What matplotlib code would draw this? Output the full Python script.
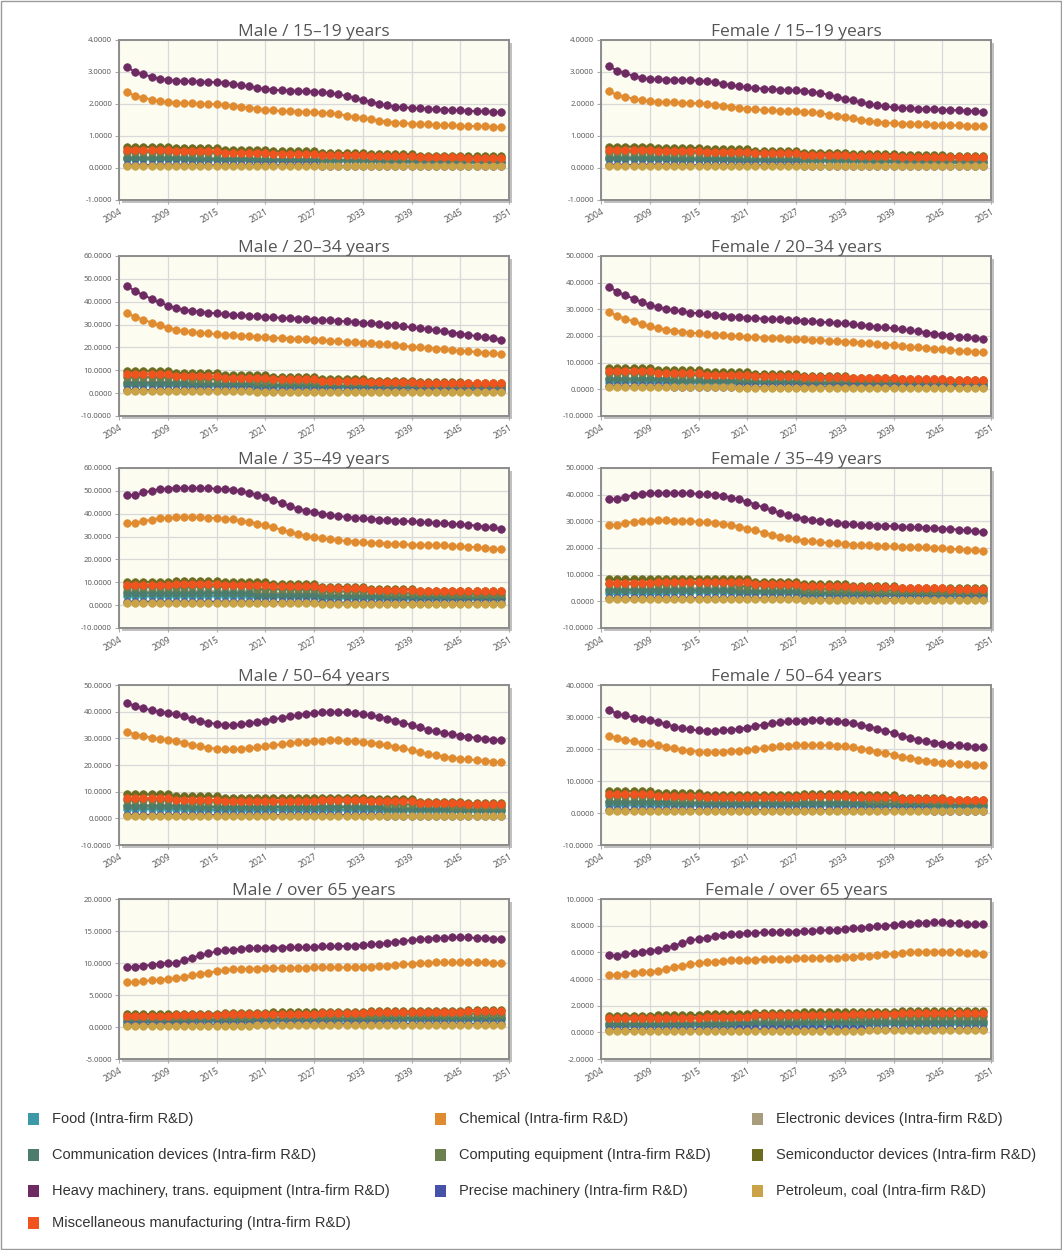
import matplotlib
matplotlib.use("Agg")
import matplotlib.pyplot as plt
import matplotlib.patheffects as pe
from matplotlib.patches import Rectangle

plt.rcParams['font.family'] = ['Open Sans', 'DejaVu Sans']

# x axis: 47 yearly points on a category axis, labels every 6th slot
tick_labels = ['2004', '2009', '2015', '2021', '2027', '2033', '2039', '2045', '2051']
x = list(range(1, 48))

series_names = ['Food (Intra-firm R&D)', 'Chemical (Intra-firm R&D)', 'Electronic devices (Intra-firm R&D)',
                'Communication devices (Intra-firm R&D)', 'Computing equipment (Intra-firm R&D)',
                'Semiconductor devices (Intra-firm R&D)', 'Heavy machinery, trans. equipment (Intra-firm R&D)',
                'Precise machinery (Intra-firm R&D)', 'Petroleum, coal (Intra-firm R&D)',
                'Miscellaneous manufacturing (Intra-firm R&D)']
colors = ['#3d98a8', '#e08b30', '#a89c7c', '#4c7c6c', '#6b7f4f',
          '#6c6c20', '#6e2a62', '#4552a8', '#c9a345', '#f0541e']


def steps(*levels):
    out = []
    base, extra = divmod(47, len(levels))
    for i, v in enumerate(levels):
        out += [v] * (base + (1 if i < extra else 0))
    return out


# ---- Male / 15-19
m15_heavy = [3.15, 3.00, 2.93, 2.85, 2.78, 2.75, 2.73, 2.72, 2.71, 2.70, 2.69, 2.68, 2.67, 2.63, 2.59, 2.55,
             2.50, 2.47, 2.45, 2.43, 2.42, 2.41, 2.40, 2.39, 2.37, 2.34, 2.30, 2.25, 2.19, 2.13, 2.07, 2.01,
             1.96, 1.92, 1.90, 1.88, 1.86, 1.85, 1.83, 1.82, 1.81, 1.80, 1.79, 1.78, 1.77, 1.76, 1.74]
m15_chem = [2.36, 2.26, 2.20, 2.14, 2.09, 2.06, 2.04, 2.03, 2.02, 2.01, 2.00, 1.99, 1.98, 1.95, 1.92, 1.89,
            1.85, 1.82, 1.80, 1.78, 1.77, 1.76, 1.75, 1.74, 1.73, 1.71, 1.68, 1.64, 1.60, 1.56, 1.52, 1.48,
            1.45, 1.42, 1.40, 1.39, 1.37, 1.36, 1.35, 1.34, 1.33, 1.32, 1.31, 1.31, 1.30, 1.29, 1.28]
m15_food = steps(0.28, 0.26, 0.23, 0.21, 0.19, 0.18)
m15_elec = steps(0.35, 0.32, 0.29, 0.26, 0.24, 0.22)
m15_comm = steps(0.30, 0.28, 0.26, 0.24, 0.22, 0.20)
m15_comp = steps(0.50, 0.47, 0.43, 0.38, 0.33, 0.30)
m15_semi = steps(0.66, 0.62, 0.57, 0.52, 0.47, 0.43, 0.39, 0.36)
m15_prec = steps(0.09, 0.08, 0.08, 0.07, 0.07, 0.06)
m15_pet = steps(0.06, 0.06, 0.05, 0.05, 0.05, 0.05)
m15_misc = steps(0.55, 0.52, 0.48, 0.45, 0.41, 0.37, 0.34, 0.32)

# ---- Female / 15-19
f15_heavy = [3.18, 3.04, 2.96, 2.88, 2.81, 2.78, 2.77, 2.76, 2.76, 2.75, 2.74, 2.73, 2.72, 2.68, 2.64, 2.59,
             2.55, 2.52, 2.50, 2.48, 2.46, 2.45, 2.44, 2.43, 2.41, 2.38, 2.34, 2.29, 2.23, 2.17, 2.11, 2.05,
             2.00, 1.96, 1.93, 1.90, 1.88, 1.87, 1.85, 1.84, 1.83, 1.82, 1.81, 1.80, 1.79, 1.78, 1.76]
f15_chem = [2.40, 2.28, 2.22, 2.16, 2.11, 2.08, 2.07, 2.06, 2.05, 2.04, 2.03, 2.02, 2.01, 1.98, 1.95, 1.92,
            1.88, 1.85, 1.83, 1.81, 1.80, 1.79, 1.78, 1.77, 1.76, 1.74, 1.71, 1.67, 1.63, 1.59, 1.55, 1.51,
            1.47, 1.44, 1.42, 1.40, 1.39, 1.38, 1.37, 1.36, 1.35, 1.34, 1.33, 1.33, 1.32, 1.31, 1.30]
f15_food = steps(0.29, 0.26, 0.23, 0.21, 0.19, 0.18)
f15_elec = steps(0.36, 0.33, 0.30, 0.27, 0.24, 0.22)
f15_comm = steps(0.31, 0.29, 0.26, 0.24, 0.22, 0.20)
f15_comp = steps(0.51, 0.48, 0.44, 0.39, 0.34, 0.31)
f15_semi = steps(0.67, 0.63, 0.58, 0.53, 0.48, 0.44, 0.40, 0.37)
f15_prec = steps(0.09, 0.08, 0.08, 0.07, 0.07, 0.06)
f15_pet = steps(0.06, 0.06, 0.05, 0.05, 0.05, 0.05)
f15_misc = steps(0.56, 0.53, 0.49, 0.46, 0.42, 0.38, 0.35, 0.33)

# ---- Male / 20-34
m20_heavy = [47.0, 44.5, 43.0, 41.2, 39.7, 38.3, 37.2, 36.5, 36.0, 35.6, 35.2, 34.9, 34.6, 34.3, 34.0, 33.8,
             33.6, 33.4, 33.2, 33.0, 32.8, 32.6, 32.4, 32.2, 32.0, 31.8, 31.6, 31.4, 31.2, 30.9, 30.6, 30.3,
             30.0, 29.6, 29.2, 28.8, 28.4, 28.0, 27.5, 27.0, 26.5, 26.0, 25.5, 25.0, 24.5, 24.0, 23.4]
m20_chem = [35.0, 33.3, 32.2, 30.8, 29.6, 28.6, 27.8, 27.2, 26.8, 26.4, 26.1, 25.8, 25.5, 25.3, 25.1, 24.9,
            24.7, 24.5, 24.3, 24.1, 23.9, 23.7, 23.5, 23.3, 23.1, 22.9, 22.7, 22.5, 22.3, 22.1, 21.9, 21.6,
            21.3, 21.0, 20.7, 20.4, 20.1, 19.8, 19.5, 19.2, 18.9, 18.6, 18.3, 18.0, 17.7, 17.4, 17.1]
m20_food = steps(3.5, 3.1, 2.8, 2.5, 2.2, 2.0)
m20_elec = steps(5.0, 4.4, 3.9, 3.4, 3.1, 2.8)
m20_comm = steps(4.5, 3.9, 3.5, 3.1, 2.8, 2.5)
m20_comp = steps(7.0, 6.2, 5.5, 4.8, 4.1, 3.6)
m20_semi = steps(9.8, 8.8, 7.9, 7.1, 6.3, 5.5, 4.8, 4.3)
m20_prec = steps(1.3, 1.2, 1.1, 1.0, 0.9, 0.8)
m20_pet = steps(0.9, 0.8, 0.7, 0.7, 0.6, 0.6)
m20_misc = steps(8.3, 7.3, 6.6, 6.0, 5.5, 5.0, 4.6, 4.3)

# ---- Female / 20-34
f20_heavy = [38.5, 36.5, 35.3, 34.0, 32.8, 31.6, 30.8, 30.2, 29.6, 29.2, 28.8, 28.5, 28.2, 27.9, 27.6, 27.3,
             27.1, 26.9, 26.7, 26.5, 26.4, 26.2, 26.0, 25.9, 25.7, 25.5, 25.3, 25.1, 24.9, 24.7, 24.4, 24.1,
             23.8, 23.5, 23.2, 22.9, 22.5, 22.1, 21.7, 21.3, 20.9, 20.5, 20.1, 19.8, 19.5, 19.2, 18.9]
f20_chem = [29.0, 27.5, 26.5, 25.5, 24.5, 23.6, 23.0, 22.4, 22.0, 21.6, 21.3, 21.0, 20.7, 20.5, 20.3, 20.1,
            19.9, 19.7, 19.6, 19.4, 19.3, 19.1, 19.0, 18.9, 18.7, 18.5, 18.4, 18.2, 18.0, 17.9, 17.7, 17.5,
            17.3, 17.0, 16.8, 16.6, 16.3, 16.0, 15.8, 15.5, 15.3, 15.0, 14.8, 14.5, 14.3, 14.1, 13.9]
f20_food = steps(2.8, 2.5, 2.2, 2.0, 1.8, 1.6)
f20_elec = steps(4.2, 3.7, 3.3, 2.9, 2.6, 2.3)
f20_comm = steps(3.7, 3.2, 2.9, 2.5, 2.2, 2.0)
f20_comp = steps(6.0, 5.3, 4.6, 4.0, 3.5, 3.0)
f20_semi = steps(8.0, 7.1, 6.4, 5.7, 5.0, 4.4, 3.9, 3.6)
f20_prec = steps(1.1, 1.0, 0.9, 0.8, 0.7, 0.7)
f20_pet = steps(0.7, 0.7, 0.6, 0.6, 0.5, 0.5)
f20_misc = steps(6.8, 6.0, 5.4, 4.9, 4.5, 4.1, 3.8, 3.5)

# ---- Male / 35-49
m35_heavy = [48.3, 48.0, 49.3, 50.0, 50.8, 51.0, 51.2, 51.3, 51.3, 51.2, 51.1, 50.9, 50.8, 50.5, 49.9, 49.2,
             48.3, 47.2, 46.0, 44.7, 43.4, 42.2, 41.3, 40.6, 40.0, 39.5, 39.0, 38.6, 38.3, 38.0, 37.7, 37.4,
             37.2, 37.0, 36.8, 36.6, 36.4, 36.2, 36.0, 35.8, 35.6, 35.4, 35.1, 34.8, 34.4, 34.0, 33.4]
m35_chem = [36.0, 35.8, 36.8, 37.4, 38.0, 38.2, 38.4, 38.5, 38.5, 38.4, 38.2, 38.0, 37.8, 37.5, 37.0, 36.4,
            35.7, 35.0, 34.0, 33.0, 32.0, 31.1, 30.3, 29.7, 29.2, 28.8, 28.4, 28.1, 27.8, 27.5, 27.3, 27.1,
            26.9, 26.7, 26.6, 26.5, 26.4, 26.3, 26.2, 26.1, 25.9, 25.7, 25.5, 25.3, 25.0, 24.7, 24.4]
m35_food = steps(4.0, 4.1, 3.6, 3.1, 2.8, 2.6)
m35_elec = steps(6.0, 6.1, 5.3, 4.5, 4.0, 3.8)
m35_comm = steps(5.2, 5.3, 4.6, 3.9, 3.5, 3.3)
m35_comp = steps(8.0, 8.2, 7.1, 6.0, 5.2, 4.8)
m35_semi = steps(10.2, 10.4, 10.2, 9.2, 8.0, 7.0, 6.4, 6.0)
m35_prec = steps(1.5, 1.5, 1.3, 1.1, 1.0, 0.9)
m35_pet = steps(0.9, 0.9, 0.8, 0.7, 0.7, 0.7)
m35_misc = steps(8.8, 9.1, 9.0, 8.2, 7.3, 6.6, 6.2, 6.0)

# ---- Female / 35-49
f35_heavy = [38.5, 38.3, 39.3, 39.8, 40.3, 40.5, 40.6, 40.7, 40.7, 40.6, 40.5, 40.3, 40.2, 40.0, 39.5, 38.9,
             38.2, 37.3, 36.3, 35.2, 34.1, 33.1, 32.3, 31.6, 31.0, 30.5, 30.1, 29.7, 29.4, 29.1, 28.9, 28.7,
             28.5, 28.4, 28.3, 28.2, 28.0, 27.9, 27.8, 27.6, 27.5, 27.3, 27.1, 26.9, 26.6, 26.3, 25.9]
f35_chem = [28.8, 28.7, 29.4, 29.8, 30.1, 30.3, 30.4, 30.4, 30.3, 30.2, 30.0, 29.9, 29.7, 29.5, 29.1, 28.6,
            28.0, 27.3, 26.6, 25.8, 25.0, 24.3, 23.7, 23.2, 22.8, 22.5, 22.2, 21.9, 21.7, 21.5, 21.3, 21.1,
            21.0, 20.8, 20.7, 20.6, 20.5, 20.4, 20.3, 20.2, 20.0, 19.9, 19.7, 19.5, 19.3, 19.1, 18.8]
f35_food = steps(3.3, 3.4, 3.0, 2.5, 2.2, 2.1)
f35_elec = steps(4.8, 4.9, 4.3, 3.6, 3.2, 3.1)
f35_comm = steps(4.2, 4.3, 3.7, 3.1, 2.8, 2.7)
f35_comp = steps(6.5, 6.7, 5.8, 4.8, 4.1, 3.9)
f35_semi = steps(8.2, 8.4, 8.2, 7.4, 6.4, 5.6, 5.1, 4.9)
f35_prec = steps(1.2, 1.2, 1.1, 0.9, 0.8, 0.8)
f35_pet = steps(0.7, 0.7, 0.7, 0.6, 0.6, 0.6)
f35_misc = steps(7.0, 7.2, 7.1, 6.5, 5.8, 5.2, 4.9, 4.7)

# ---- Male / 50-64
m50_heavy = [43.4, 42.0, 41.3, 40.5, 39.9, 39.6, 39.0, 38.2, 37.3, 36.5, 35.9, 35.4, 35.0, 35.0, 35.2, 35.6,
             36.0, 36.5, 37.1, 37.7, 38.3, 38.8, 39.2, 39.5, 39.7, 39.8, 39.8, 39.7, 39.5, 39.1, 38.6, 38.0,
             37.4, 36.6, 35.8, 35.0, 34.1, 33.3, 32.6, 32.0, 31.5, 31.0, 30.6, 30.2, 29.8, 29.5, 29.2]
m50_chem = [32.5, 31.4, 30.9, 30.3, 29.8, 29.5, 29.0, 28.3, 27.6, 27.0, 26.5, 26.1, 25.9, 25.9, 26.0, 26.3,
            26.6, 27.0, 27.4, 27.8, 28.2, 28.5, 28.8, 29.0, 29.1, 29.2, 29.2, 29.1, 29.0, 28.7, 28.4, 27.9,
            27.4, 26.8, 26.2, 25.5, 24.8, 24.2, 23.6, 23.1, 22.7, 22.4, 22.1, 21.8, 21.6, 21.3, 21.1]
m50_food = steps(3.5, 3.2, 3.2, 3.2, 2.8, 2.6)
m50_elec = steps(5.0, 4.6, 4.6, 4.6, 4.1, 3.8)
m50_comm = steps(4.5, 4.2, 4.2, 4.2, 3.6, 3.3)
m50_comp = steps(7.0, 6.3, 6.3, 6.4, 5.3, 4.8)
m50_semi = steps(9.0, 8.2, 7.6, 7.6, 7.8, 7.3, 6.3, 5.6)
m50_prec = steps(1.3, 1.2, 1.2, 1.2, 1.0, 0.9)
m50_pet = steps(0.8, 0.8, 0.8, 0.8, 0.7, 0.7)
m50_misc = steps(7.6, 6.9, 6.5, 6.6, 6.9, 6.6, 5.9, 5.3)

# ---- Female / 50-64
f50_heavy = [32.2, 31.0, 30.5, 29.8, 29.3, 29.1, 28.5, 27.7, 27.0, 26.5, 26.1, 25.8, 25.7, 25.7, 25.8, 26.0,
             26.3, 26.7, 27.2, 27.6, 28.0, 28.3, 28.6, 28.8, 28.9, 29.0, 29.0, 28.9, 28.7, 28.4, 28.0, 27.5,
             27.0, 26.4, 25.7, 25.0, 24.2, 23.5, 22.9, 22.4, 22.0, 21.7, 21.4, 21.1, 20.9, 20.7, 20.5]
f50_chem = [24.2, 23.3, 22.9, 22.4, 22.0, 21.8, 21.3, 20.7, 20.2, 19.8, 19.5, 19.2, 19.0, 19.0, 19.1, 19.3,
            19.5, 19.7, 20.0, 20.3, 20.6, 20.8, 21.0, 21.1, 21.2, 21.2, 21.2, 21.1, 21.0, 20.8, 20.5, 20.1,
            19.7, 19.2, 18.7, 18.2, 17.6, 17.1, 16.7, 16.3, 16.0, 15.7, 15.5, 15.3, 15.2, 15.0, 14.9]
f50_food = steps(2.6, 2.4, 2.4, 2.4, 2.1, 1.9)
f50_elec = steps(3.8, 3.5, 3.5, 3.5, 3.1, 2.8)
f50_comm = steps(3.3, 3.1, 3.1, 3.1, 2.7, 2.5)
f50_comp = steps(5.3, 4.8, 4.8, 4.9, 4.0, 3.6)
f50_semi = steps(6.8, 6.1, 5.7, 5.7, 5.9, 5.5, 4.7, 4.2)
f50_prec = steps(1.0, 0.9, 0.9, 0.9, 0.8, 0.7)
f50_pet = steps(0.6, 0.6, 0.6, 0.6, 0.5, 0.5)
f50_misc = steps(5.8, 5.2, 4.9, 5.0, 5.3, 5.0, 4.5, 4.0)

# ---- Male / over 65
m65_heavy = [9.4, 9.4, 9.6, 9.7, 9.9, 10.0, 10.0, 10.4, 10.8, 11.2, 11.5, 11.8, 12.0, 12.1, 12.2, 12.3,
             12.3, 12.4, 12.4, 12.4, 12.5, 12.5, 12.5, 12.5, 12.6, 12.6, 12.6, 12.7, 12.7, 12.8, 12.9, 13.0,
             13.1, 13.3, 13.4, 13.6, 13.7, 13.8, 13.9, 13.9, 14.0, 14.0, 14.0, 13.9, 13.9, 13.8, 13.7]
m65_chem = [7.0, 7.0, 7.2, 7.3, 7.4, 7.5, 7.6, 7.8, 8.1, 8.3, 8.5, 8.7, 8.9, 9.0, 9.0, 9.1,
            9.1, 9.2, 9.2, 9.2, 9.2, 9.2, 9.2, 9.3, 9.3, 9.3, 9.3, 9.3, 9.3, 9.4, 9.4, 9.5,
            9.6, 9.7, 9.8, 9.9, 10.0, 10.0, 10.1, 10.1, 10.1, 10.1, 10.1, 10.1, 10.1, 10.0, 10.0]
m65_food = steps(0.8, 0.9, 1.0, 1.0, 1.1, 1.1)
m65_elec = steps(1.2, 1.35, 1.45, 1.5, 1.6, 1.6)
m65_comm = steps(1.0, 1.15, 1.25, 1.3, 1.4, 1.4)
m65_comp = steps(1.6, 1.75, 1.85, 1.9, 2.0, 2.1)
m65_semi = steps(2.0, 2.1, 2.25, 2.35, 2.4, 2.45, 2.55, 2.6)
m65_prec = steps(0.35, 0.38, 0.4, 0.42, 0.45, 0.45)
m65_pet = steps(0.2, 0.22, 0.25, 0.25, 0.28, 0.3)
m65_misc = steps(1.75, 1.85, 2.0, 2.1, 2.2, 2.3, 2.4, 2.5)

# ---- Female / over 65
f65_heavy = [5.8, 5.75, 5.85, 5.95, 6.05, 6.1, 6.2, 6.3, 6.5, 6.7, 6.9, 7.0, 7.1, 7.2, 7.3, 7.35,
             7.4, 7.45, 7.45, 7.5, 7.5, 7.5, 7.55, 7.55, 7.6, 7.6, 7.65, 7.65, 7.7, 7.75, 7.8, 7.85,
             7.9, 7.95, 8.0, 8.05, 8.1, 8.15, 8.2, 8.2, 8.25, 8.25, 8.2, 8.2, 8.15, 8.1, 8.1]
f65_chem = [4.3, 4.3, 4.4, 4.45, 4.5, 4.55, 4.6, 4.75, 4.9, 5.0, 5.1, 5.2, 5.25, 5.3, 5.35, 5.4,
            5.4, 5.45, 5.45, 5.5, 5.5, 5.5, 5.5, 5.55, 5.55, 5.55, 5.6, 5.6, 5.6, 5.65, 5.65, 5.7,
            5.75, 5.8, 5.85, 5.9, 5.95, 6.0, 6.0, 6.05, 6.05, 6.05, 6.0, 6.0, 5.95, 5.95, 5.9]
f65_food = steps(0.45, 0.5, 0.55, 0.57, 0.6, 0.6)
f65_elec = steps(0.7, 0.78, 0.85, 0.88, 0.95, 0.95)
f65_comm = steps(0.6, 0.66, 0.72, 0.75, 0.8, 0.8)
f65_comp = steps(1.0, 1.08, 1.15, 1.18, 1.25, 1.25)
f65_semi = steps(1.25, 1.3, 1.38, 1.45, 1.5, 1.55, 1.6, 1.6)
f65_prec = steps(0.18, 0.2, 0.22, 0.23, 0.24, 0.24)
f65_pet = steps(0.1, 0.11, 0.12, 0.13, 0.14, 0.14)
f65_misc = steps(1.05, 1.1, 1.18, 1.27, 1.33, 1.4, 1.45, 1.45)

panels = [
    ('Male / 15\u201319 years', [m15_food, m15_chem, m15_elec, m15_comm, m15_comp, m15_semi, m15_heavy, m15_prec, m15_pet, m15_misc], -1, 4, 1),
    ('Female / 15\u201319 years', [f15_food, f15_chem, f15_elec, f15_comm, f15_comp, f15_semi, f15_heavy, f15_prec, f15_pet, f15_misc], -1, 4, 1),
    ('Male / 20\u201334 years', [m20_food, m20_chem, m20_elec, m20_comm, m20_comp, m20_semi, m20_heavy, m20_prec, m20_pet, m20_misc], -10, 60, 10),
    ('Female / 20\u201334 years', [f20_food, f20_chem, f20_elec, f20_comm, f20_comp, f20_semi, f20_heavy, f20_prec, f20_pet, f20_misc], -10, 50, 10),
    ('Male / 35\u201349 years', [m35_food, m35_chem, m35_elec, m35_comm, m35_comp, m35_semi, m35_heavy, m35_prec, m35_pet, m35_misc], -10, 60, 10),
    ('Female / 35\u201349 years', [f35_food, f35_chem, f35_elec, f35_comm, f35_comp, f35_semi, f35_heavy, f35_prec, f35_pet, f35_misc], -10, 50, 10),
    ('Male / 50\u201364 years', [m50_food, m50_chem, m50_elec, m50_comm, m50_comp, m50_semi, m50_heavy, m50_prec, m50_pet, m50_misc], -10, 50, 10),
    ('Female / 50\u201364 years', [f50_food, f50_chem, f50_elec, f50_comm, f50_comp, f50_semi, f50_heavy, f50_prec, f50_pet, f50_misc], -10, 40, 10),
    ('Male / over 65 years', [m65_food, m65_chem, m65_elec, m65_comm, m65_comp, m65_semi, m65_heavy, m65_prec, m65_pet, m65_misc], -5, 20, 5),
    ('Female / over 65 years', [f65_food, f65_chem, f65_elec, f65_comm, f65_comp, f65_semi, f65_heavy, f65_prec, f65_pet, f65_misc], -2, 10, 2),
]

W, H = 1062, 1250
fig = plt.figure(figsize=(W / 100, H / 100), dpi=100)
fig.patch.set_facecolor('white')

col_left = [119, 601]
ax_w = 390
row_top = [40, 256, 468, 685, 899]
ax_h = 160

for i, (title, data, ymin, ymax, ystep) in enumerate(panels):
    r, c = divmod(i, 2)
    ax = fig.add_axes([col_left[c] / W, 1 - (row_top[r] + ax_h) / H, ax_w / W, ax_h / H])
    ax.set_facecolor('#fdfcf0')
    ax.patch.set_path_effects([pe.SimplePatchShadow(offset=(2, -2), alpha=0.35), pe.Normal()])
    for vals, col in zip(data, colors):
        ax.plot(x, vals, color=col, lw=1.4, marker='o', ms=5.4, mec=col, mew=0.6, zorder=3)
    ax.set_xlim(0, 48)
    ax.set_ylim(ymin, ymax)
    ax.set_xticks(range(0, 49, 6))
    ax.set_xticklabels(tick_labels, rotation=30, ha='right', rotation_mode='anchor')
    yt = list(range(ymin, ymax + 1, ystep))
    ax.set_yticks(yt)
    ax.set_yticklabels([f'{v:.4f}' for v in yt])
    ax.grid(True, color='#d9d9d9', lw=0.9, zorder=0)
    ax.set_axisbelow(True)
    ax.tick_params(length=3, color='#aaaaaa', labelsize=5.6, labelcolor='#555555', pad=2)
    ax.tick_params(axis='x', labelsize=6.2)
    for s in ax.spines.values():
        s.set_color('#8c8c8c')
        s.set_linewidth(1.4)
    ax.set_title(title, fontsize=12.5, color='#555555', pad=1)

# legend, laid out row by row in three columns
leg_cols = [33, 440, 757]
leg_rows = [1119, 1155, 1191, 1223]
for k, (name, col) in enumerate(zip(series_names, colors)):
    r, c = divmod(k, 3)
    sx, sy = leg_cols[c], leg_rows[r]
    fig.patches.append(Rectangle(((sx - 5) / W, 1 - (sy + 6) / H), 11 / W, 12 / H,
                                 transform=fig.transFigure, facecolor=col, edgecolor='none'))
    fig.text((sx + 19) / W, 1 - sy / H, name, fontsize=10.5, color='#333333', va='center', ha='left',
             family=['Liberation Sans', 'DejaVu Sans'])

fig.patches.append(Rectangle((0.001, 0.001), 0.998, 0.998, transform=fig.transFigure,
                             fill=False, edgecolor='#9a9a9a', lw=1))

fig.savefig('out.png', dpi=100)
